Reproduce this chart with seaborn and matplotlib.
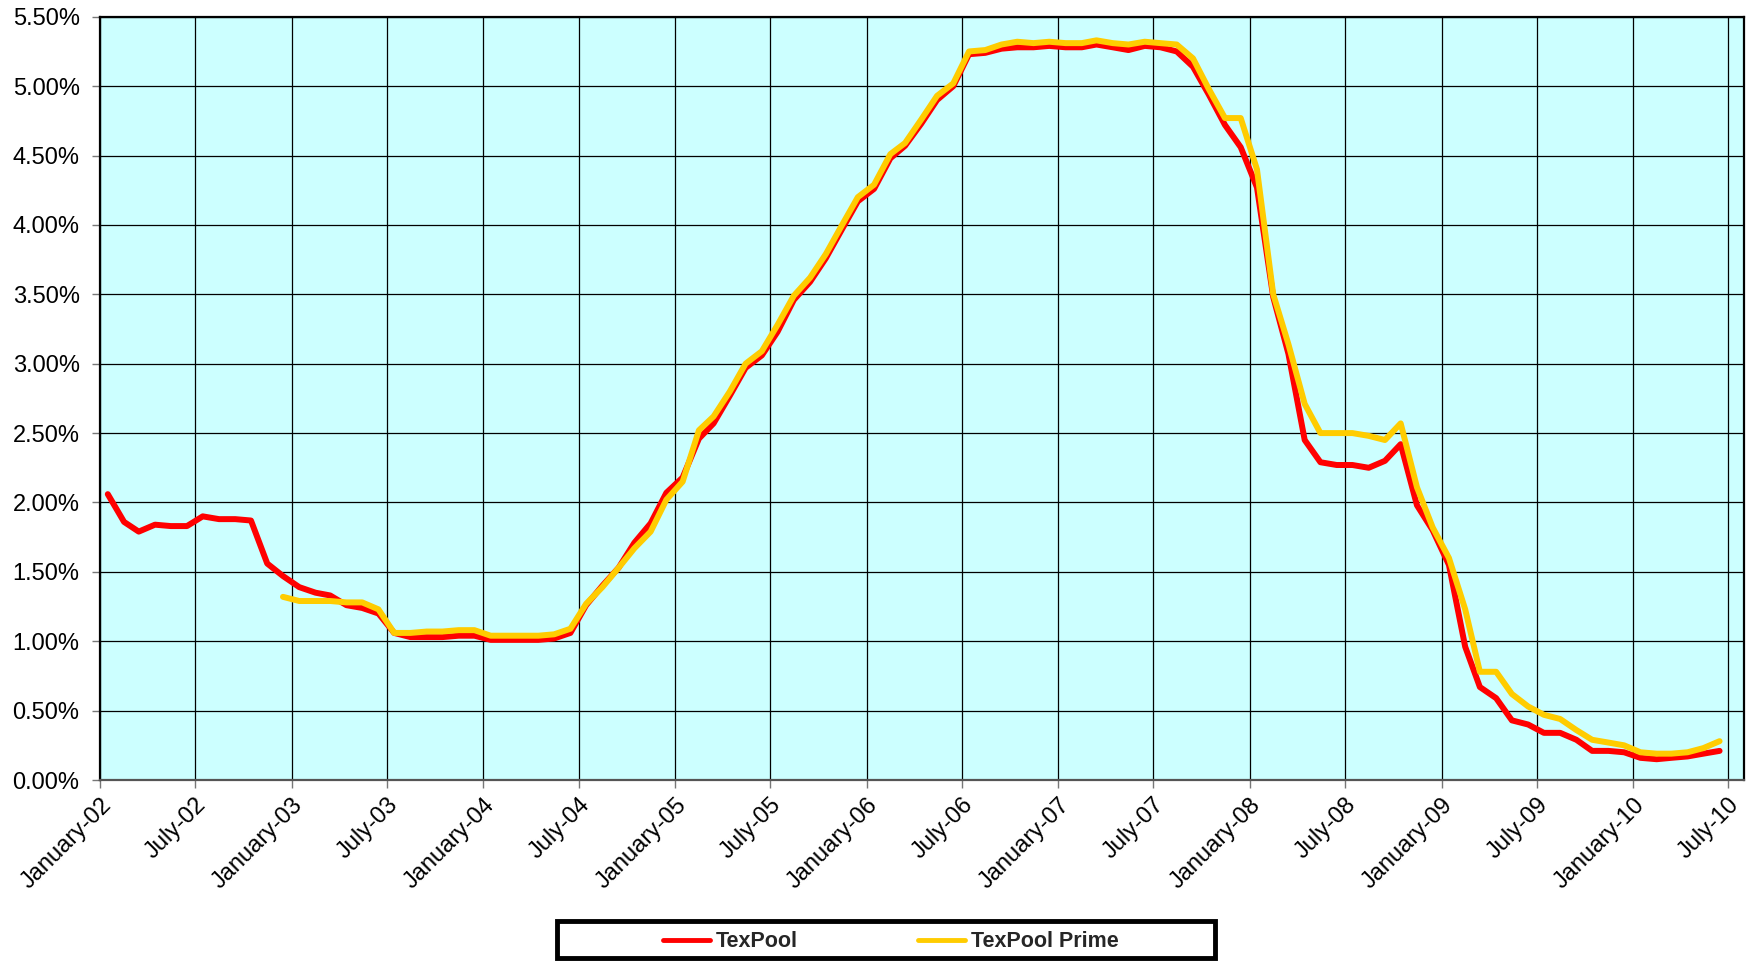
import matplotlib
matplotlib.use("Agg")
import matplotlib.pyplot as plt
import matplotlib.dates as mdates
from matplotlib.patches import Rectangle
from matplotlib.ticker import FuncFormatter, MultipleLocator
import seaborn as sns
import pandas as pd

# monthly average yields (%), TexPool from Jan-2002, Prime from Dec-2002, both through Jun-2010
texpool_start = "2002-01-01"
texpool = [
    2.06, 1.86, 1.79, 1.84, 1.83, 1.83, 1.90, 1.88, 1.88, 1.87, 1.56, 1.47,
    1.39, 1.35, 1.33, 1.26, 1.24, 1.20, 1.06, 1.03, 1.03, 1.03, 1.04, 1.04,
    1.01, 1.01, 1.01, 1.01, 1.02, 1.06, 1.26, 1.40, 1.53, 1.71, 1.85, 2.07,
    2.18, 2.46, 2.57, 2.77, 2.97, 3.06, 3.23, 3.46, 3.59, 3.76, 3.97, 4.17,
    4.26, 4.48, 4.57, 4.73, 4.90, 5.00, 5.23, 5.24, 5.27, 5.28, 5.28, 5.29,
    5.28, 5.28, 5.30, 5.28, 5.26, 5.29, 5.28, 5.25, 5.14, 4.94, 4.72, 4.56,
    4.27, 3.48, 3.07, 2.45, 2.29, 2.27, 2.27, 2.25, 2.30, 2.42, 1.98, 1.80,
    1.55, 0.96, 0.67, 0.59, 0.43, 0.40, 0.34, 0.34, 0.29, 0.21, 0.21, 0.20,
    0.16, 0.15, 0.16, 0.17, 0.19, 0.21,
]
prime_start = "2002-12-01"
prime = [
    1.32,
    1.29, 1.29, 1.29, 1.28, 1.28, 1.23, 1.06, 1.06, 1.07, 1.07, 1.08, 1.08,
    1.04, 1.04, 1.04, 1.04, 1.05, 1.09, 1.27, 1.39, 1.53, 1.67, 1.79, 2.02,
    2.15, 2.52, 2.62, 2.80, 3.00, 3.09, 3.28, 3.49, 3.62, 3.79, 4.00, 4.20,
    4.29, 4.51, 4.59, 4.76, 4.93, 5.02, 5.25, 5.26, 5.30, 5.32, 5.31, 5.32,
    5.31, 5.31, 5.33, 5.31, 5.30, 5.32, 5.31, 5.30, 5.20, 4.98, 4.77, 4.77,
    4.40, 3.50, 3.14, 2.71, 2.50, 2.50, 2.50, 2.48, 2.45, 2.57, 2.11, 1.82,
    1.60, 1.23, 0.78, 0.78, 0.62, 0.53, 0.47, 0.44, 0.36, 0.29, 0.27, 0.25,
    0.20, 0.19, 0.19, 0.20, 0.23, 0.28,
]
series_names = ["TexPool", "TexPool Prime"]
colors = {"TexPool": "#FF0000", "TexPool Prime": "#FFCC00"}


def mid_month(start, n):
    # points sit in the middle of each month on the date axis
    return pd.date_range(start, periods=n, freq="MS") + pd.Timedelta(days=14)


df = pd.concat([
    pd.DataFrame({"date": mid_month(texpool_start, len(texpool)), "rate": texpool, "fund": series_names[0]}),
    pd.DataFrame({"date": mid_month(prime_start, len(prime)), "rate": prime, "fund": series_names[1]}),
])

sns.set_theme(style="ticks")
plt.rcParams["font.family"] = ["Liberation Sans", "DejaVu Sans"]

fig = plt.figure(figsize=(17.53, 9.63), dpi=100)
ax = fig.add_axes([0.0573, 0.19, 0.9377, 0.7926])
ax.set_facecolor("#CCFFFF")

sns.lineplot(data=df, x="date", y="rate", hue="fund", hue_order=series_names,
             palette=colors, linewidth=4.3, ax=ax, legend=True)

ax.set_xlim(pd.Timestamp("2002-01-01"), pd.Timestamp("2010-08-01"))
ax.set_ylim(0, 5.5)
ax.yaxis.set_major_locator(MultipleLocator(0.5))
ax.yaxis.set_major_formatter(FuncFormatter(lambda v, p: f"{v:.2f}%"))
ax.xaxis.set_major_locator(mdates.MonthLocator(bymonth=[1, 7]))
ax.xaxis.set_major_formatter(mdates.DateFormatter("%B-%y"))

ax.grid(True, color="black", linewidth=0.9)
ax.set_axisbelow(True)
for side in ["left", "bottom", "top", "right"]:
    ax.spines[side].set_visible(True)
    ax.spines[side].set_color("black")
    ax.spines[side].set_linewidth(1.6)
ax.spines["bottom"].set_color("#555555")

ax.tick_params(axis="both", direction="out", length=6, width=1, color="#777777",
               labelsize=17, colors="black")
ax.tick_params(axis="x", pad=4)
ax.tick_params(axis="y", pad=9)
plt.setp(ax.get_xticklabels(), rotation=45, ha="right", rotation_mode="anchor")
ax.set_xlabel("")
ax.set_ylabel("")

# legend: wide black box at the bottom, entries centred inside it
handles, labels = ax.get_legend_handles_labels()
ax.get_legend().remove()
leg = fig.legend(handles, labels, loc="center", bbox_to_anchor=(0.508, 0.022),
                 ncol=2, frameon=False, prop={"weight": "bold", "size": 15.5},
                 handlelength=2.2, handletextpad=0.25, columnspacing=5.6)
for line in leg.get_lines():
    line.set_linewidth(3.5)
fig.patches.append(Rectangle((0.318, 0.005), 0.375, 0.0385, transform=fig.transFigure,
                             fill=False, edgecolor="black", linewidth=3.5))

fig.savefig("out.png", dpi=100)
